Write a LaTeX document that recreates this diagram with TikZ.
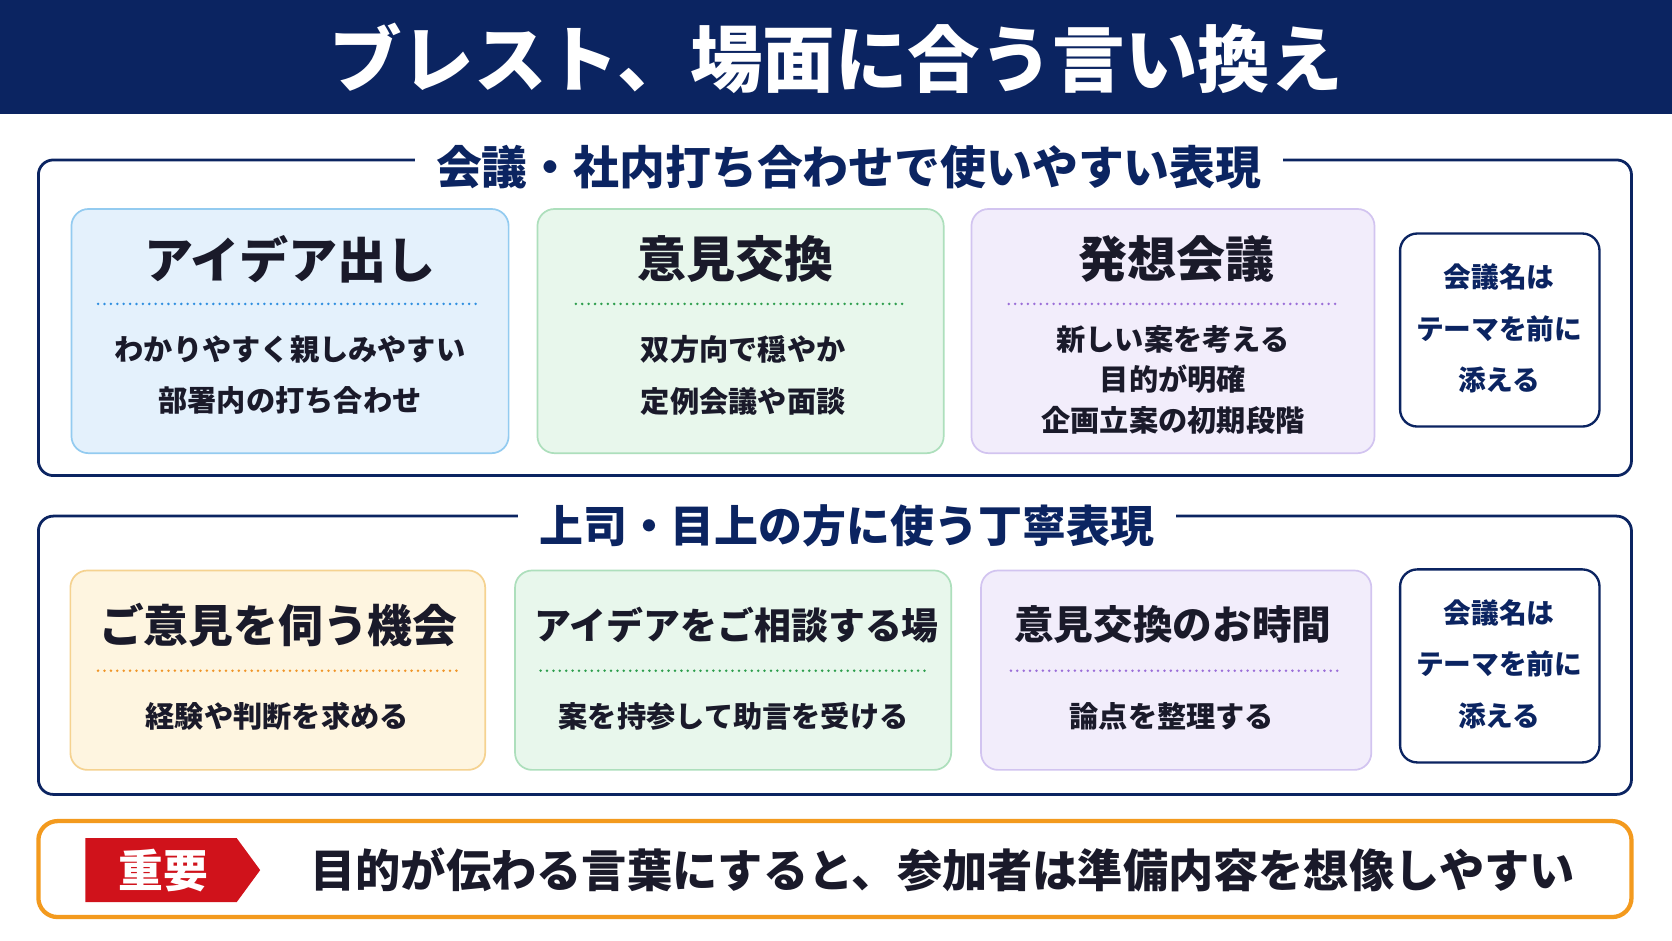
\documentclass[tikz,border=0pt]{standalone}
\usepackage{fontspec}
\newfontfamily\jp{Noto Sans CJK JP}
\definecolor{navy}{HTML}{0B2461}
\definecolor{bfill}{HTML}{E4F1FC}\definecolor{bline}{HTML}{93CBF0}\definecolor{bdot}{HTML}{2F8FE0}
\definecolor{gfill}{HTML}{E8F7EC}\definecolor{gline}{HTML}{ADDFBC}\definecolor{gdot}{HTML}{2E9E4E}
\definecolor{pfill}{HTML}{F2EDFB}\definecolor{pline}{HTML}{D2C4F0}\definecolor{pdot}{HTML}{9B6FD8}
\definecolor{ofill}{HTML}{FEF5E0}\definecolor{oline}{HTML}{F5D290}\definecolor{odot}{HTML}{F0962A}
\definecolor{txt}{HTML}{1A1A2A}\definecolor{orng}{HTML}{F39A1E}\definecolor{redt}{HTML}{D0121B}
\tikzset{
 frame/.style={draw=navy,line width=1.3pt,rounded corners=7pt,fill=white},
 card/.style={line width=0.8pt,rounded corners=8pt},
 sec/.style={fill=white,text=navy,font=\jp\bfseries\fontsize{21.5}{23}\selectfont,inner xsep=10pt},
 ctitle/.style={text=txt,font=\jp\bfseries\fontsize{23}{25}\selectfont},
 ctitlb/.style={text=txt,font=\jp\bfseries\fontsize{18.6}{21}\selectfont},
 body/.style={text=txt,font=\jp\bfseries\fontsize{13.7}{24}\selectfont,align=center},
 dots/.style={line width=1.3pt,dash pattern=on 0pt off 3pt,line cap=round},
}
\begin{document}
\begin{tikzpicture}[x=0.5pt,y=-0.5pt]
\useasboundingbox (0,0) rectangle (1568,882);
\fill[white] (0,0) rectangle (1568,882);
\fill[navy] (0,0) rectangle (1568,107);
\node[text=white,font=\jp\bfseries\fontsize{34}{36}\selectfont] (title) at (784,55) {ブレスト、場面に合う言い換え};
% section 1
\draw[frame] (36,150) rectangle (1530,446);
\node[sec] (s1) at (796,157) {会議・社内打ち合わせで使いやすい表現};
\draw[card,fill=bfill,draw=bline] (67,196) rectangle (477,425);
\node[ctitle] (a1) at (272,243) {アイデア出し};
\draw[dots,bdot] (92,285) -- (450,285);
\node[body] (a2) at (272,352) {わかりやすく親しみやすい\\部署内の打ち合わせ};
\draw[card,fill=gfill,draw=gline] (504,196) rectangle (885,425);
\node[ctitle] (b1) at (690,243) {意見交換};
\draw[dots,gdot] (540,285) -- (850,285);
\node[body] (b2) at (697,352) {双方向で穏やか\\定例会議や面談};
\draw[card,fill=pfill,draw=pline] (911,196) rectangle (1289,425);
\node[ctitle] (c1) at (1103,243) {発想会議};
\draw[dots,pdot] (946,285) -- (1256,285);
\node[body,font=\jp\bfseries\fontsize{13.7}{19}\selectfont] (c2) at (1100,356) {新しい案を考える\\目的が明確\\企画立案の初期段階};
\draw[card,draw=navy,line width=1.1pt,fill=white] (1313,219) rectangle (1500,400);
\node[body,text=navy,font=\jp\bfseries\fontsize{13}{24}\selectfont] (d1) at (1406,308) {会議名は\\テーマを前に\\添える};
% section 2
\draw[frame] (36,484) rectangle (1530,745);
\node[sec,font=\jp\bfseries\fontsize{20.6}{22}\selectfont] (s2) at (794,493) {上司・目上の方に使う丁寧表現};
\draw[card,fill=ofill,draw=oline] (66,535) rectangle (455,722);
\node[ctitlb,font=\jp\bfseries\fontsize{21}{23}\selectfont] (e1) at (261,586) {ご意見を伺う機会};
\draw[dots,odot] (92,629) -- (430,629);
\node[body] (e2) at (260,672) {経験や判断を求める};
\draw[card,fill=gfill,draw=gline] (483,535) rectangle (892,722);
\node[ctitlb,font=\jp\bfseries\fontsize{17.3}{20}\selectfont] (f1) at (691,586) {アイデアをご相談する場};
\draw[dots,gdot] (507,629) -- (870,629);
\node[body] (f2) at (688,672) {案を持参して助言を受ける};
\draw[card,fill=pfill,draw=pline] (920,535) rectangle (1286,722);
\node[ctitlb] (g1) at (1100,586) {意見交換のお時間};
\draw[dots,pdot] (948,629) -- (1256,629);
\node[body] (g2) at (1099,672) {論点を整理する};
\draw[card,draw=navy,line width=1.1pt,fill=white] (1313,534) rectangle (1500,715);
\node[body,text=navy,font=\jp\bfseries\fontsize{13}{24}\selectfont] (h1) at (1406,623) {会議名は\\テーマを前に\\添える};
% bottom
\draw[orng,line width=2pt,rounded corners=9pt,fill=white] (36,770) rectangle (1530,860);
\fill[redt] (80,786) -- (222,786) -- (244,816) -- (222,846) -- (80,846) -- cycle;
\node[text=white,font=\jp\bfseries\fontsize{21}{23}\selectfont] (imp) at (153,816) {重要};
\node[text=txt,font=\jp\bfseries\fontsize{21.2}{23}\selectfont] (msg) at (884,816) {目的が伝わる言葉にすると、参加者は準備内容を想像しやすい};
\end{tikzpicture}
\end{document}
